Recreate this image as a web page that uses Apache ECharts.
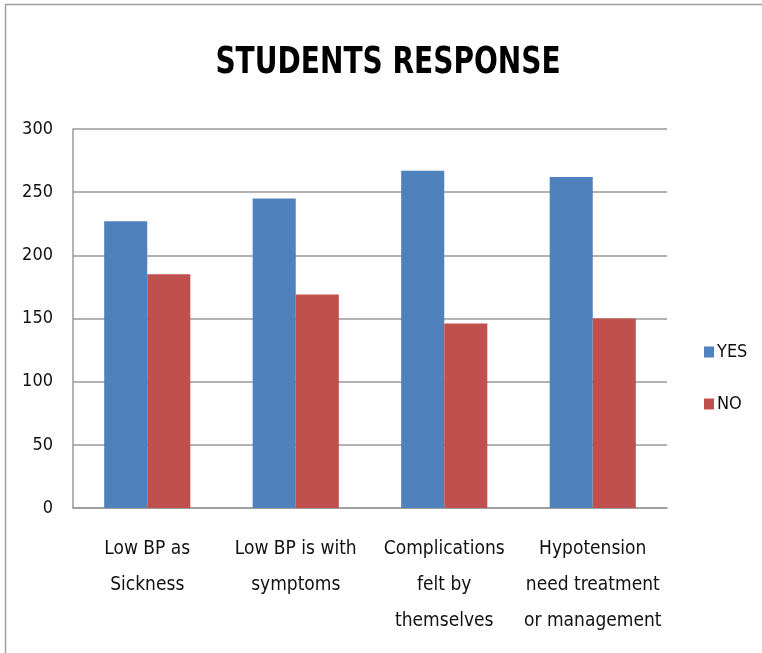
<!DOCTYPE html>
<html>
<head>
<meta charset="utf-8">
<script src="https://cdn.jsdelivr.net/npm/echarts@6/dist/echarts.min.js"></script>
<style>
  html, body { margin: 0; padding: 0; background: #fff; }
  #chart { width: 762px; height: 653px; }
</style>
</head>
<body>
<div id="chart"></div>
<script>
var titleText = 'STUDENTS RESPONSE';
var categories = ['Low BP as\nSickness', 'Low BP is with\nsymptoms', 'Complications\nfelt by\nthemselves', 'Hypotension\nneed treatment\nor management'];
var yesValues = [227, 245, 267, 262];
var noValues = [185, 169, 146, 150];
var seriesNames = ['YES', 'NO'];

var font = "'Liberation Sans Narrow', 'DejaVu Sans Condensed', sans-serif";

var chart = echarts.init(document.getElementById('chart'));
var option = {
    backgroundColor: '#fff',
    animation: false,
    legend: {
        orient: 'vertical',
        left: 699,
        top: 338,
        itemWidth: 10,
        itemHeight: 11,
        itemGap: 34,
        icon: 'rect',
        data: seriesNames,
        textStyle: { fontFamily: font, fontSize: 18, color: '#111', padding: [0, 0, 0, -2] }
    },
    grid: { left: 73, right: 95, top: 129, bottom: 145 },
    xAxis: {
        type: 'category',
        data: categories,
        axisLine: { lineStyle: { color: '#999', width: 1.5 } },
        axisTick: { show: false },
        axisLabel: { interval: 0, fontFamily: font, fontSize: 19, color: '#111', lineHeight: 36, margin: 23 }
    },
    yAxis: {
        type: 'value',
        min: 0,
        max: 300,
        interval: 50,
        axisLine: { show: true, lineStyle: { color: '#999', width: 1.5 } },
        axisTick: { show: false },
        axisLabel: { fontFamily: font, fontSize: 18, color: '#111', margin: 20 },
        splitLine: { lineStyle: { color: '#9a9a9a', width: 1.5 } }
    },
    series: [
        {
            name: seriesNames[0],
            type: 'bar',
            data: yesValues,
            barGap: 0,
            barCategoryGap: '42%',
            itemStyle: { color: '#4f81bd' }
        },
        {
            name: seriesNames[1],
            type: 'bar',
            data: noValues,
            itemStyle: { color: '#c0504d' }
        }
    ],
    graphic: [
        {
            type: 'rect',
            shape: { x: 5.5, y: 4.5, width: 900, height: 800 },
            style: { fill: 'none', stroke: '#a0a0a0', lineWidth: 1.5 },
            silent: true
        },
        {
            // title drawn as text so it can be squeezed like the condensed original
            type: 'text',
            x: 388,
            y: 63,
            scaleX: 0.82,
            style: {
                text: titleText,
                fontFamily: font,
                fontSize: 38,
                fontWeight: 'bold',
                fill: '#000',
                textAlign: 'center',
                textVerticalAlign: 'middle'
            },
            silent: true
        }
    ]
};
chart.setOption(option);
</script>
</body>
</html>
